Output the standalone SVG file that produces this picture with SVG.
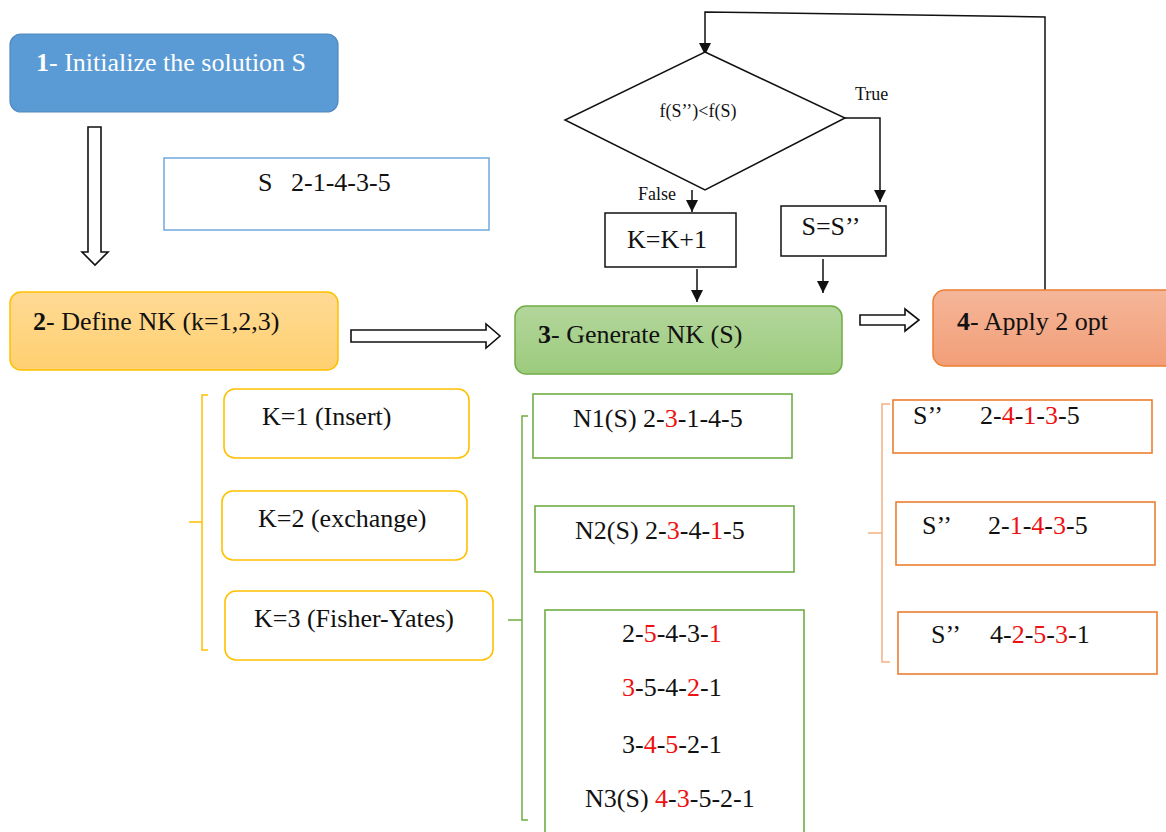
<svg xmlns="http://www.w3.org/2000/svg" width="1166" height="832" viewBox="0 0 1166 832">
<defs>
<style>
text{font-family:'Liberation Serif','DejaVu Serif',serif;fill:#111;}
.t{font-size:26px;}
.s{font-size:18px;}
.r{fill:#ee1111;}
.blk{fill:none;stroke:#111;stroke-width:1.5;}
.hollow{fill:#fff;stroke:#111;stroke-width:1.6;}
.yb{fill:#fff;stroke:#FFC000;stroke-width:1.6;}
.gb{fill:#fff;stroke:#70AD47;stroke-width:1.6;}
.ob{fill:#fff;stroke:#ED7D31;stroke-width:1.6;}
</style>
<linearGradient id="gy" x1="0" y1="0" x2="0" y2="1"><stop offset="0" stop-color="#FFDA95"/><stop offset="1" stop-color="#FFD070"/></linearGradient>
<linearGradient id="gg" x1="0" y1="0" x2="0" y2="1"><stop offset="0" stop-color="#B3D69B"/><stop offset="1" stop-color="#9CCB7D"/></linearGradient>
<linearGradient id="go" x1="0" y1="0" x2="0" y2="1"><stop offset="0" stop-color="#F5B699"/><stop offset="1" stop-color="#F29E78"/></linearGradient>
<marker id="ahb" viewBox="0 0 10 10" refX="10" refY="5" markerWidth="12" markerHeight="12" markerUnits="userSpaceOnUse" orient="auto"><path d="M0,0L10,5L0,10z" fill="#111"/></marker>
</defs>
<rect width="1166" height="832" fill="#fff"/>

<g id="connectors">
<path class="hollow" d="M88,127H101V252H108L95,265L82,252H88Z"/>
<path class="hollow" d="M351,330H486V324L500,336L486,348V342H351Z"/>
<path class="hollow" d="M860,315H905V309L919,320L905,331V325H860Z"/>
<path class="blk" d="M1045,290V17L705,12V55" marker-end="url(#ahb)"/>
<path class="blk" d="M843,118H880V202" marker-end="url(#ahb)"/>
<path class="blk" d="M692,190V212" marker-end="url(#ahb)"/>
<path class="blk" d="M697,269V302" marker-end="url(#ahb)"/>
<path class="blk" d="M823,259V293" marker-end="url(#ahb)"/>
<path fill="none" stroke="#FFC000" stroke-width="1.5" d="M208,395H202V650H208M202,522H189"/>
<path fill="none" stroke="#70AD47" stroke-width="1.5" d="M528,416H522V820H528M522,620H508"/>
<path fill="none" stroke="#F4B183" stroke-width="1.5" d="M890,404H882V662H890M882,533H868"/>
</g>

<g id="n1">
<rect x="10" y="34" width="328" height="78" rx="11" fill="#5B9BD5" stroke="#5089C0" stroke-width="1.2"/>
<text class="t" x="36" y="71" style="fill:#fff"><tspan font-weight="bold" style="fill:#fff">1</tspan>- Initialize the solution S</text>
</g>
<g id="s0">
<rect x="164" y="158" width="325" height="72" fill="#fff" stroke="#6FA8DC" stroke-width="1.5"/>
<text class="t" x="258" y="191">S</text><text class="t" x="291" y="191">2-1-4-3-5</text>
</g>

<g id="n2">
<rect x="10" y="292" width="328" height="78" rx="11" fill="url(#gy)" stroke="#FFC000" stroke-width="1.5"/>
<text class="t" x="33" y="330"><tspan font-weight="bold">2</tspan>- Define NK (k=1,2,3)</text>
</g>
<g id="k1"><rect class="yb" x="224" y="389" width="245" height="69" rx="11"/><text class="t" x="262" y="425">K=1 (Insert)</text></g>
<g id="k2"><rect class="yb" x="222" y="491" width="245" height="69" rx="11"/><text class="t" x="258" y="527">K=2 (exchange)</text></g>
<g id="k3"><rect class="yb" x="225" y="591" width="268" height="69" rx="11"/><text class="t" x="254" y="627">K=3 (Fisher-Yates)</text></g>

<g id="n3">
<rect x="515" y="306" width="327" height="68" rx="11" fill="url(#gg)" stroke="#70AD47" stroke-width="1.5"/>
<text class="t" x="538" y="343"><tspan font-weight="bold">3</tspan>- Generate NK (S)</text>
</g>
<g id="nb1"><rect class="gb" x="533" y="394" width="259" height="64"/><text class="t" x="573" y="427">N1(S) 2-<tspan class="r">3</tspan>-1-4-5</text></g>
<g id="nb2"><rect class="gb" x="535" y="506" width="259" height="66"/><text class="t" x="575" y="539">N2(S) 2-<tspan class="r">3</tspan>-4-<tspan class="r">1</tspan>-5</text></g>
<g id="nb3"><rect class="gb" x="545" y="610" width="259" height="230"/>
<text class="t" x="622" y="642">2-<tspan class="r">5</tspan>-4-3-<tspan class="r">1</tspan></text>
<text class="t" x="622" y="696"><tspan class="r">3</tspan>-5-4-<tspan class="r">2</tspan>-1</text>
<text class="t" x="622" y="753">3-<tspan class="r">4</tspan>-<tspan class="r">5</tspan>-2-1</text>
<text class="t" x="585" y="807">N3(S) <tspan class="r">4</tspan>-<tspan class="r">3</tspan>-5-2-1</text>
</g>

<g id="decision">
<path d="M705,52L845,118L705,190L565,120Z" fill="#fff" stroke="#111" stroke-width="1.5"/>
<text class="s" x="698" y="117" text-anchor="middle">f(S’’)&lt;f(S)</text>
<text class="s" x="855" y="100">True</text>
<text class="s" x="638" y="200">False</text>
</g>
<g id="kinc"><rect x="605" y="213" width="131" height="54" fill="#fff" stroke="#111" stroke-width="1.5"/><text class="t" x="667" y="248" text-anchor="middle">K=K+1</text></g>
<g id="ss"><rect x="781" y="206" width="105" height="50" fill="#fff" stroke="#111" stroke-width="1.5"/><text class="t" x="831" y="235" text-anchor="middle">S=S’’</text></g>

<g id="n4">
<rect x="933" y="290" width="250" height="76" rx="12" fill="url(#go)" stroke="#ED7D31" stroke-width="1.5"/>
<text class="t" x="957" y="330"><tspan font-weight="bold">4</tspan>- Apply 2 opt</text>
</g>
<g id="o1"><rect class="ob" x="893" y="400" width="259" height="53"/><text class="t" x="913" y="424">S’’</text><text class="t" x="980" y="424">2-<tspan class="r">4</tspan>-<tspan class="r">1</tspan>-<tspan class="r">3</tspan>-5</text></g>
<g id="o2"><rect class="ob" x="896" y="502" width="259" height="63"/><text class="t" x="922" y="534">S’’</text><text class="t" x="988" y="534">2-<tspan class="r">1</tspan>-<tspan class="r">4</tspan>-<tspan class="r">3</tspan>-5</text></g>
<g id="o3"><rect class="ob" x="898" y="612" width="259" height="62"/><text class="t" x="931" y="643">S’’</text><text class="t" x="990" y="643">4-<tspan class="r">2</tspan>-<tspan class="r">5</tspan>-<tspan class="r">3</tspan>-1</text></g>
</svg>
